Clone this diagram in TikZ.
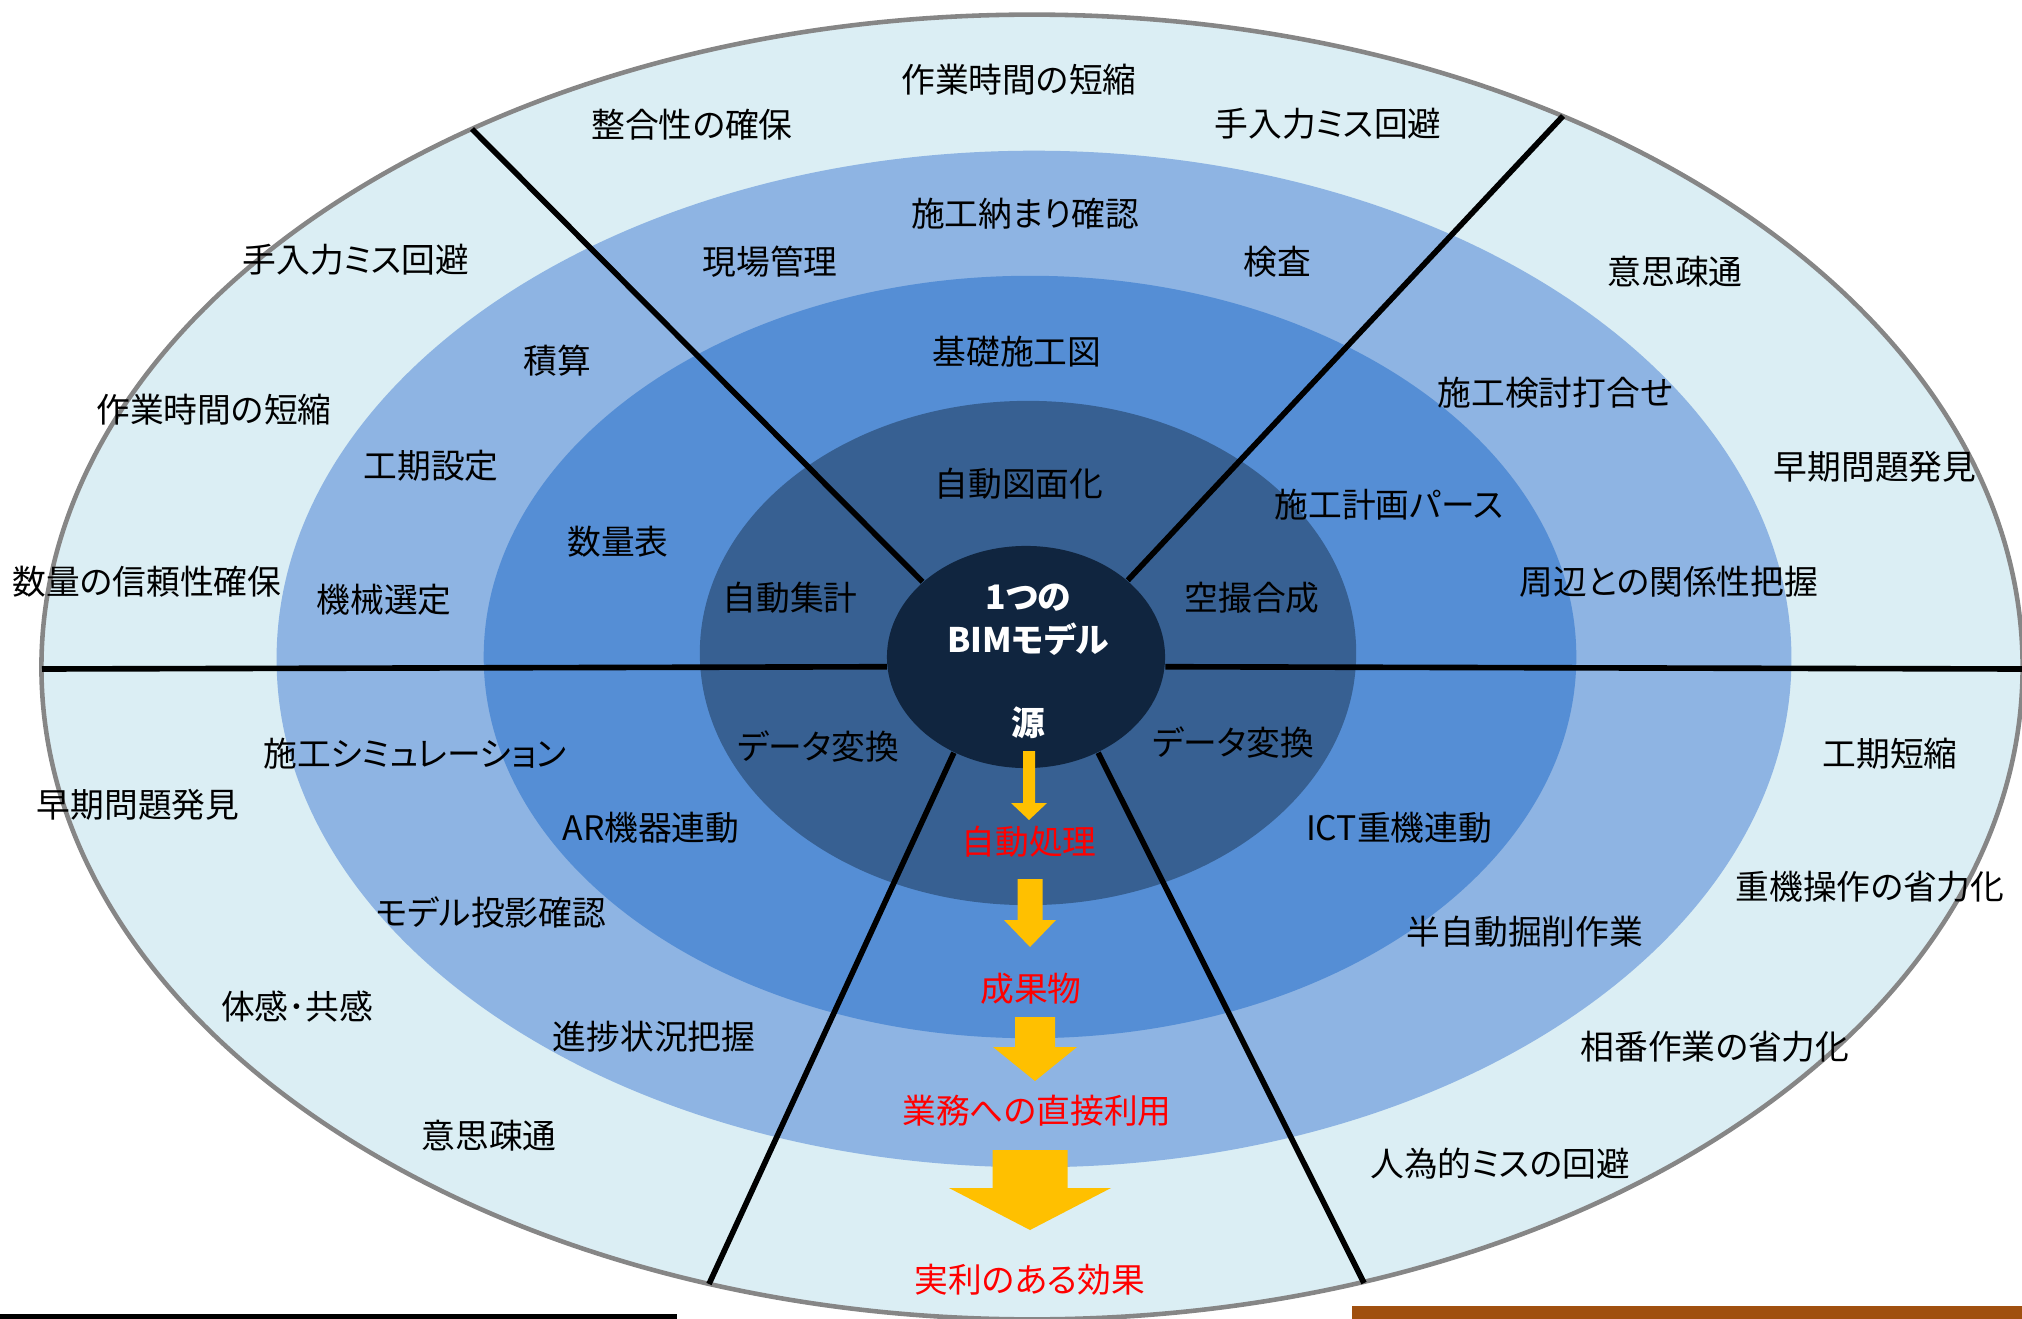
\documentclass[tikz,border=0pt]{standalone}
\usepackage{fontspec}
\setmainfont[RawFeature=+palt]{Noto Sans CJK JP}
\usepackage{xcolor}
\usepackage{tikz}
\usetikzlibrary{shapes.geometric}
\definecolor{ringa}{HTML}{DBEEF4}
\definecolor{ringb}{HTML}{8EB4E3}
\definecolor{ringc}{HTML}{558ED5}
\definecolor{ringd}{HTML}{376092}
\definecolor{core}{HTML}{10253F}
\definecolor{rimgray}{HTML}{868686}
\definecolor{arrowyellow}{HTML}{FFC000}
\definecolor{barbrown}{HTML}{A0500F}
\tikzstyle{lbl} = [font=\fontsize{9.6}{12.2}\selectfont,inner sep=0pt]
\tikzstyle{redlbl} = [lbl,text=red]
\tikzstyle{spoke} = [line width=1.6pt,black]
\tikzstyle{arrowfill} = [fill=arrowyellow]
\newcommand{\yarrow}[6]{\fill[arrowfill] (#1-#5,#2) -- (#1+#5,#2) -- (#1+#5,#3) -- (#1+#6,#3) -- (#1,#4) -- (#1-#6,#3) -- (#1-#5,#3) -- cycle;}

\begin{document}
\begin{tikzpicture}[x=0.01cm,y=-0.01cm]
          \useasboundingbox (0,0) rectangle (2022,1319);
          % rings
          \filldraw [fill=ringa,draw=rimgray,line width=1.3pt] (1032,667) ellipse [x radius=9.9cm,y radius=6.52cm];
          \fill [ringb] (1034,659) ellipse [x radius=7.57cm,y radius=5.08cm];
          \fill [ringc] (1030,657) ellipse [x radius=5.46cm,y radius=3.81cm];
          \fill [ringd] (1028,653) ellipse [x radius=3.28cm,y radius=2.52cm];
          \node [ellipse,fill=core,inner sep=0pt,minimum width=2.78cm,minimum height=2.22cm] (bim) at (1026,657) {};

          % spokes
          \coordinate (L) at (42,669);
          \coordinate (R) at (2022,669);
          \coordinate (UL) at (472,129);
          \coordinate (UR) at (1563,116);
          \coordinate (LL) at (709,1284);
          \coordinate (LR) at (1364,1283);
          \draw [spoke] (L) -- (bim.184);
          \draw [spoke] (R) -- (bim.356);
          \draw [spoke] (UL) -- (bim.144);
          \draw [spoke] (UR) -- (bim.37);
          \draw [spoke] (LL) -- (bim.233);
          \draw [spoke] (LR) -- (bim.307);

          % centre
          \node [lbl,text=white,font=\fontsize{9.6}{12.2}\selectfont\bfseries,align=center] (one) at (1028,620) {1つの\\BIMモデル};
          \node [lbl,text=white,font=\fontsize{9.6}{12.2}\selectfont\bfseries] (src) at (1028,723) {源};

          % outer ring
          \node [lbl] (o1) at (1019,80) {作業時間の短縮};
          \node [lbl] (o2) at (692,125) {整合性の確保};
          \node [lbl] (o3) at (1328,124) {手入力ミス回避};
          \node [lbl] (o4) at (356,260) {手入力ミス回避};
          \node [lbl] (o5) at (214,410) {作業時間の短縮};
          \node [lbl] (o6) at (147,582) {数量の信頼性確保};
          \node [lbl] (o7) at (138,805) {早期問題発見};
          \node [lbl] (o8) at (297,1007) {体感･共感};
          \node [lbl] (o9) at (489,1136) {意思疎通};
          \node [lbl] (o10) at (1675,272) {意思疎通};
          \node [lbl] (o11) at (1875,467) {早期問題発見};
          \node [lbl] (o12) at (1890,754) {工期短縮};
          \node [lbl] (o13) at (1870,887) {重機操作の省力化};
          \node [lbl] (o14) at (1715,1047) {相番作業の省力化};
          \node [lbl] (o15) at (1500,1164) {人為的ミスの回避};

          % second ring
          \node [lbl] (m1) at (1025,214) {施工納まり確認};
          \node [lbl] (m2) at (770,262) {現場管理};
          \node [lbl] (m3) at (1277,262) {検査};
          \node [lbl] (m4) at (557,361) {積算};
          \node [lbl] (m5) at (431,466) {工期設定};
          \node [lbl] (m6) at (384,600) {機械選定};
          \node [lbl] (m7) at (1555,393) {施工検討打合せ};
          \node [lbl] (m8) at (1669,582) {周辺との関係性把握};
          \node [lbl] (m9) at (415,754) {施工シミュレーション};
          \node [lbl] (m10) at (491,912) {モデル投影確認};
          \node [lbl] (m11) at (654,1037) {進捗状況把握};
          \node [lbl] (m12) at (1525,932) {半自動掘削作業};

          % third ring
          \node [lbl] (b1) at (1017,352) {基礎施工図};
          \node [lbl] (b2) at (618,542) {数量表};
          \node [lbl] (b3) at (1389,505) {施工計画パース};
          \node [lbl] (b4) at (651,828) {AR機器連動};
          \node [lbl] (b5) at (1399,828) {ICT重機連動};

          % inner ring
          \node [lbl] (d1) at (1019,484) {自動図面化};
          \node [lbl] (d2) at (790,598) {自動集計};
          \node [lbl] (d3) at (1252,598) {空撮合成};
          \node [lbl] (d4) at (818,747) {データ変換};
          \node [lbl] (d5) at (1233,743) {データ変換};

          % flow down the middle
          \yarrow{1029}{751}{803}{820}{6}{18}
          \node [redlbl] (r1) at (1029,842) {自動処理};
          \yarrow{1030}{879}{920}{947}{12.5}{26}
          \node [redlbl] (r2) at (1031,989) {成果物};
          \yarrow{1035}{1017}{1047}{1081}{20}{42}
          \node [redlbl] (r3) at (1037,1111) {業務への直接利用};
          \yarrow{1030}{1150}{1188}{1230}{37.5}{81}
          \node [redlbl] (r4) at (1030,1280) {実利のある効果};

          % bars at the foot
          \fill [black] (0,1314) rectangle (677,1319);
          \fill [barbrown] (1352,1306) rectangle (2022,1319);
      \end{tikzpicture}
\end{document}
